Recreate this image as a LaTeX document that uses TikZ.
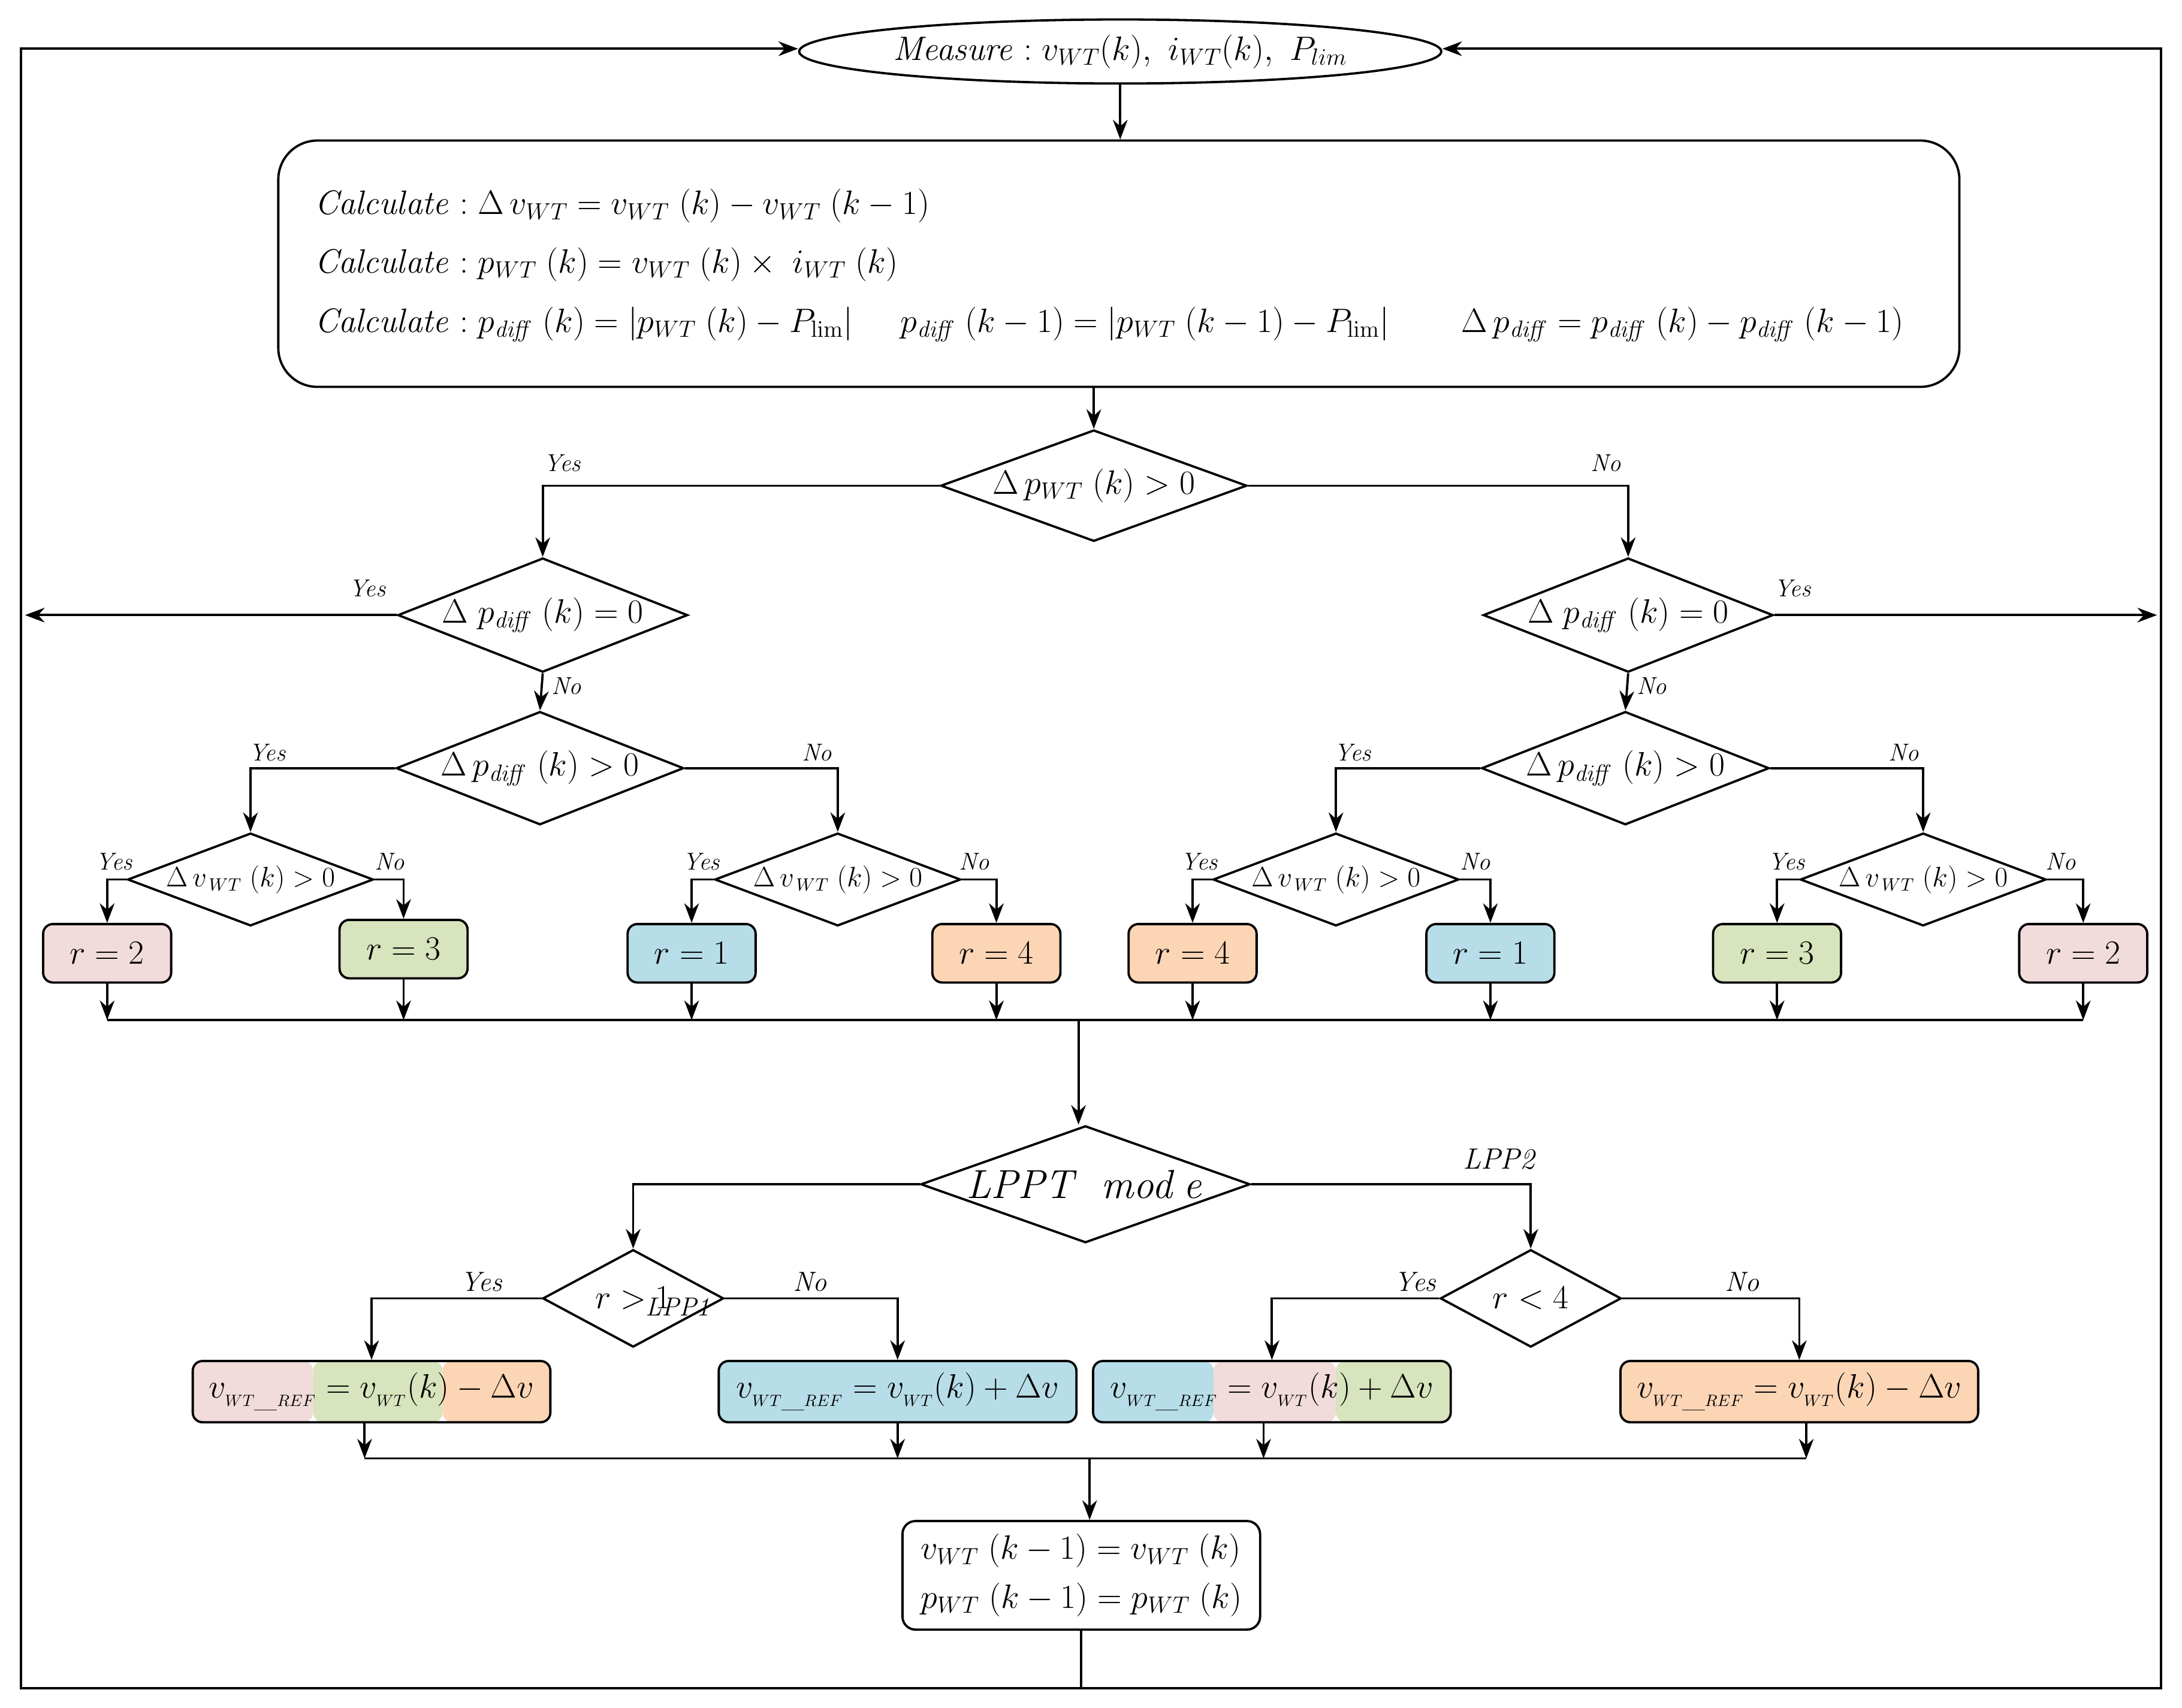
\documentclass[tikz,border=0pt]{standalone}
\usetikzlibrary{shapes.geometric,arrows.meta,calc}
\definecolor{cpink}{HTML}{F2DCDB}
\definecolor{cgreen}{HTML}{D7E4BD}
\definecolor{cblue}{HTML}{B7DDE8}
\definecolor{corange}{HTML}{FCD5B5}
\tikzset{
 ln/.style={line width=1.4pt},
 ar/.style={ln,-{Stealth[length=12pt,width=9pt]}},
 dia/.style 2 args={diamond,draw,line width=1.4pt,inner sep=0pt,minimum width=#1,minimum height=#2},
 rbox/.style={draw,line width=1.4pt,rounded corners=6pt,minimum width=2.76cm,minimum height=1.26cm,font=\fontsize{20}{24}\selectfont},
 wbox/.style={draw,line width=1.4pt,rounded corners=6pt,minimum width=7.71cm,minimum height=1.32cm,font=\fontsize{20}{24}\selectfont},
 yn/.style={font=\fontsize{15}{18}\selectfont\itshape},
 ct/.style={anchor=west,font=\fontsize{21}{25}\selectfont}
}
\begin{document}
\begin{tikzpicture}[x=0.03cm,y=-0.03cm]
\useasboundingbox (0,0) rectangle (1568,1227);
% measure
\node[ellipse,draw,line width=1.4pt,minimum width=12.9cm,minimum height=1.38cm,inner sep=0pt,font=\fontsize{22}{26}\selectfont] (m) at (805,37) {$\mathit{Measure}: v_{WT}(k),\ i_{WT}(k),\ P_{lim}$};
\node[draw,line width=1.4pt,rounded corners=24pt,minimum width=36.24cm,minimum height=5.31cm] (calc) at (804,189.5) {};
\node[ct] (c1) at (222,148) {$\mathit{Calculate}: \Delta\, v_{WT} = v_{WT}\;(k) - v_{WT}\;(k-1)$};
\node[ct] (c2) at (222,190) {$\mathit{Calculate}: p_{WT}\;(k) = v_{WT}\;(k)\times\; i_{WT}\;(k)$};
\node[ct] (c3) at (222,233) {$\mathit{Calculate}: p_{\mathit{diff}}\;(k) = \bigl|p_{WT}\;(k) - P_{\mathrm{lim}}\bigr|$};
\node[ct] (c4) at (643,233) {$p_{\mathit{diff}}\;(k-1) = \bigl|p_{WT}\;(k-1) - P_{\mathrm{lim}}\bigr|$};
\node[ct] (c5) at (1046,233) {$\Delta\, p_{\mathit{diff}} = p_{\mathit{diff}}\;(k) - p_{\mathit{diff}}\;(k-1)$};
\draw[ar] (m.south) -- (m.south|-calc.north);
% decisions
\node[dia={6.6cm}{2.4cm},aspect=2.75,font=\fontsize{22}{26}\selectfont] (d1) at (786,349) {$\Delta\, p_{WT}\;(k)>0$};
\draw[ar] (calc.south-|d1.north) -- (d1.north);
\node[dia={6.1cm}{2.4cm},aspect=2.54,font=\fontsize{20}{24}\selectfont] (d2L) at (390,442) {$\Delta\; p_{\mathit{diff}}\;(k)=0$};
\node[dia={6.1cm}{2.4cm},aspect=2.54,font=\fontsize{20}{24}\selectfont] (d2R) at (1170,442) {$\Delta\; p_{\mathit{diff}}\;(k)=0$};
\node[dia={6.1cm}{2.4cm},aspect=2.54,font=\fontsize{20}{24}\selectfont] (d3L) at (388,552) {$\Delta\, p_{\mathit{diff}}\;(k)>0$};
\node[dia={6.1cm}{2.4cm},aspect=2.54,font=\fontsize{20}{24}\selectfont] (d3R) at (1168,552) {$\Delta\, p_{\mathit{diff}}\;(k)>0$};
\draw[ar] (d1.west) -| (d2L.north);
\draw[ar] (d1.east) -| (d2R.north);
\coordinate (eL) at (18,442); \coordinate (eR) at (1550,442);
\draw[ar] (d2L.west) -- (eL);
\draw[ar] (d2R.east) -- (eR);
\draw[ar] (d2L.south) -- (d3L.north);
\draw[ar] (d2R.south) -- (d3R.north);
\foreach \n/\x in {a/180,b/602,c/960,d/1382}{
 \node[dia={5.3cm}{2.0cm},aspect=2.65,font=\fontsize{16}{19}\selectfont] (d4\n) at (\x,632) {$\Delta\, v_{\,WT}\;(k)>0$};}
\draw[ar] (d3L.west) -| (d4a.north);
\draw[ar] (d3L.east) -| (d4b.north);
\draw[ar] (d3R.west) -| (d4c.north);
\draw[ar] (d3R.east) -| (d4d.north);
\node[rbox,fill=cpink] (r1) at (77,685) {$r=2$};
\node[rbox,fill=cgreen] (r2) at (290,682) {$r=3$};
\node[rbox,fill=cblue] (r3) at (497,685) {$r=1$};
\node[rbox,fill=corange] (r4) at (716,685) {$r=4$};
\node[rbox,fill=corange] (r5) at (857,685) {$r=4$};
\node[rbox,fill=cblue] (r6) at (1071,685) {$r=1$};
\node[rbox,fill=cgreen] (r7) at (1277,685) {$r=3$};
\node[rbox,fill=cpink] (r8) at (1497,685) {$r=2$};
\draw[ar] (d4a.west) -| (r1.north);
\draw[ar] (d4a.east) -| (r2.north);
\draw[ar] (d4b.west) -| (r3.north);
\draw[ar] (d4b.east) -| (r4.north);
\draw[ar] (d4c.west) -| (r5.north);
\draw[ar] (d4c.east) -| (r6.north);
\draw[ar] (d4d.west) -| (r7.north);
\draw[ar] (d4d.east) -| (r8.north);
\coordinate (busL) at (77,733); \coordinate (busR) at (1497,733);
\draw[ln] (busL) -- (busR);
\foreach \r in {r1,r2,r3,r4,r5,r6,r7,r8}{\draw[ar] (\r.south) -- (\r.south|-busL);}
% LPPT
\node[dia={7.1cm}{2.52cm},aspect=2.82,font=\fontsize{23}{27}\selectfont] (lp) at (780,851) {$\mathit{LPPT\ \ mod\,e}$};
\coordinate (bt) at (775,733);
\draw[ar] (bt) -- (bt|-lp.north);
\node[dia={3.9cm}{2.1cm},aspect=1.86,font=\fontsize{20}{24}\selectfont] (q1) at (455,933) {$r>1$};
\node[dia={3.9cm}{2.1cm},aspect=1.86,font=\fontsize{20}{24}\selectfont] (q2) at (1100,933) {$r<4$};
\draw[ar] (lp.west) -| (q1.north);
\draw[ar] (lp.east) -| (q2.north);
\node[font=\fontsize{18}{22}\selectfont\itshape] (l2) at (1077,833) {LPP2};
\node[font=\fontsize{16}{20}\selectfont\itshape] (l1) at (487,939) {LPP1};
\node[wbox,path picture={
 \fill[cpink] (path picture bounding box.south west) rectangle ([xshift=-1.26cm]path picture bounding box.north);
 \fill[cgreen] ([xshift=-1.26cm]path picture bounding box.south) rectangle ([xshift=1.53cm]path picture bounding box.north);
 \fill[corange] ([xshift=1.53cm]path picture bounding box.south) rectangle (path picture bounding box.north east);}] (b1) at (267,1000) {$v_{_{WT\_REF}} = v_{_{WT}}(k) - \Delta v$};
\node[wbox,fill=cblue] (b2) at (645,1000) {$v_{_{WT\_REF}} = v_{_{WT}}(k) + \Delta v$};
\node[wbox,path picture={
 \fill[cblue] (path picture bounding box.south west) rectangle ([xshift=-1.26cm]path picture bounding box.north);
 \fill[cpink] ([xshift=-1.26cm]path picture bounding box.south) rectangle ([xshift=1.38cm]path picture bounding box.north);
 \fill[cgreen] ([xshift=1.38cm]path picture bounding box.south) rectangle (path picture bounding box.north east);}] (b3) at (914,1000) {$v_{_{WT\_REF}} = v_{_{WT}}(k) + \Delta v$};
\node[wbox,fill=corange] (b4) at (1293,1000) {$v_{_{WT\_REF}} = v_{_{WT}}(k) - \Delta v$};
\draw[ar] (q1.west) -| (b1.north);
\draw[ar] (q1.east) -| (b2.north);
\draw[ar] (q2.west) -| (b3.north);
\draw[ar] (q2.east) -| (b4.north);
\coordinate (b2L) at (262,1048); \coordinate (b2R) at (1298,1048);
\draw[ln] (b2L) -- (b2R);
\draw[ar] (b1.south-|b2L) -- (b2L);
\draw[ar] (b2.south) -- (b2.south|-b2L);
\draw[ar] (b3.south-|908,0) -- (908,1048);
\draw[ar] (b4.south-|b2R) -- (b2R);
% final
\node[draw,line width=1.4pt,rounded corners=8pt,minimum width=7.71cm,minimum height=2.34cm,align=left,font=\fontsize{20}{26}\selectfont] (f) at (777,1132) {$v_{WT}\;(k-1)=v_{WT}\;(k)$\\[4pt]$p_{WT}\;(k-1)=p_{WT}\;(k)$};
\coordinate (bt2) at (783,1048);
\draw[ar] (bt2) -- (bt2|-f.north);
% loop
\coordinate (o1) at (777,1213); \coordinate (o2) at (15,1213); \coordinate (o3) at (15,35);
\coordinate (o4) at (1553,1213); \coordinate (o5) at (1553,35);
\draw[ln] (f.south) -- (o1);
\draw[ar] (o1) -- (o2) -- (o3) -- (m.west|-o3);
\draw[ar] (o1) -- (o4) -- (o5) -- (m.east|-o5);
% labels
\node[yn] at (404,333) {Yes}; \node[yn] at (1154,333) {No};
\node[yn] at (264,423) {Yes}; \node[yn] at (1288,423) {Yes};
\node[yn] at (407,493) {No}; \node[yn] at (1187,493) {No};
\node[yn] at (192,541) {Yes}; \node[yn] at (587,541) {No};
\node[yn] at (972,541) {Yes}; \node[yn] at (1368,541) {No};
\node[yn] at (82,619) {Yes}; \node[yn] at (280,619) {No};
\node[yn] at (504,619) {Yes}; \node[yn] at (700,619) {No};
\node[yn] at (862,619) {Yes}; \node[yn] at (1060,619) {No};
\node[yn] at (1284,619) {Yes}; \node[yn] at (1481,619) {No};
\node[yn,font=\fontsize{17}{20}\selectfont\itshape] at (346,921) {Yes}; \node[yn,font=\fontsize{17}{20}\selectfont\itshape] at (582,921) {No};
\node[yn,font=\fontsize{17}{20}\selectfont\itshape] at (1017,921) {Yes}; \node[yn,font=\fontsize{17}{20}\selectfont\itshape] at (1252,921) {No};
\end{tikzpicture}
\end{document}
